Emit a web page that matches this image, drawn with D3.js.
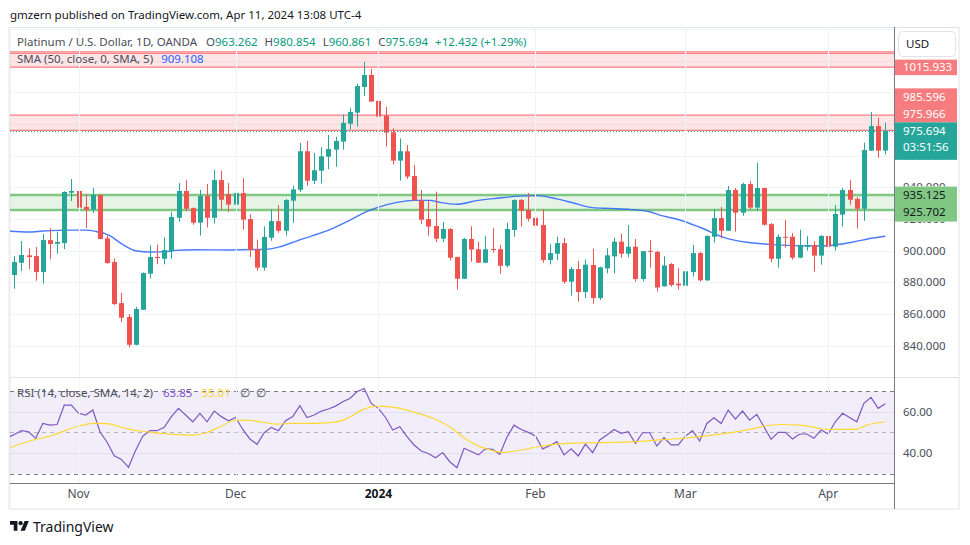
<!DOCTYPE html>
<html><head><meta charset="utf-8">
<script src="https://cdn.jsdelivr.net/npm/d3@7"></script>
<style>
html,body{margin:0;padding:0;background:#fff;}
svg{display:block;font-family:"Noto Sans","Open Sans",sans-serif;}
</style></head><body>
<svg id="c" width="970" height="545"></svg>
<script>
// ---------------- DATA ----------------
const opens = [884.6,892.4,897.1,896.6,886.5,906.7,904.4,904.8,936.6,937.7,927.6,925.9,935.2,907.8,892.8,866.9,858.1,840.6,862.7,885.5,
896.0,894.9,899.6,920.8,937.7,926.9,917.7,934.5,920.8,944.6,935.8,929.1,936.4,920.0,900.9,889.3,908.2,918.7,912.6,931.6,
938.5,962.8,944.2,950.5,959.4,963.8,968.9,980.2,987.2,1003.4,1011.0,994.6,985.3,974.8,956.9,962.8,947.2,931.8,920.0,915.6,
907.6,913.7,896.0,882.3,907.4,900.9,892.4,901.1,900.9,890.5,913.1,932.0,925.7,920.7,916.2,894.1,898.1,904.8,880.4,888.4,
873.9,891.0,870.1,888.8,896.4,905.7,898.1,902.5,882.1,899.9,899.3,877.5,891.6,879.2,877.9,886.5,898.5,881.3,908.8,920.6,
912.6,938.3,924.0,942.1,927.2,939.6,916.8,894.9,908.8,908.8,895.6,902.5,903.6,896.9,909.3,902.5,922.8,938.3,932.7,926.5,
963.2,978.7,963.262];
const highs = [896.6,906.1,901.5,902.3,910.5,914.3,912.0,937.5,945.3,937.9,935.8,939.6,935.6,909.7,895.2,873.3,860.0,864.6,886.3,903.4,
903.8,908.6,924.4,942.7,944.6,927.4,938.3,942.1,951.0,950.5,942.7,938.5,945.7,922.9,907.0,915.4,926.1,928.9,932.7,941.1,
968.1,969.3,961.7,965.3,973.1,972.0,986.1,990.3,1005.5,1019.2,1014.8,1004.0,990.8,977.3,970.9,966.7,954.1,938.3,931.6,937.3,
918.1,914.3,896.2,908.0,915.4,905.5,909.3,914.3,903.6,917.7,932.4,932.7,936.4,925.1,926.1,904.2,908.8,908.0,889.7,893.5,
894.5,901.1,889.9,901.5,908.2,910.7,916.2,907.4,899.9,906.8,899.9,896.5,892.2,889.1,887.4,903.6,899.3,909.7,926.3,927.6,
940.9,939.6,943.0,944.0,955.4,939.8,917.5,910.3,919.4,911.2,913.3,909.3,906.0,909.9,915.0,928.9,939.6,944.6,933.9,968.2,
987.6,984.0,980.854];
const lows = [876.0,887.2,888.4,881.1,879.2,894.7,898.1,901.0,931.4,919.4,914.3,923.8,907.2,891.8,865.7,854.9,838.9,840.2,862.5,882.5,
891.4,891.4,894.9,918.3,925.0,916.4,909.5,914.7,917.1,925.7,924.4,920.4,913.3,896.0,887.4,887.4,906.3,911.4,909.5,917.7,
937.1,941.1,942.1,942.5,951.4,953.0,963.8,976.6,978.3,997.7,994.0,979.0,965.7,954.4,944.2,945.3,931.6,916.9,909.5,905.5,
905.5,893.9,875.4,882.1,893.1,892.2,892.2,898.8,885.5,889.3,908.8,915.2,918.5,903.6,892.4,891.4,894.1,879.1,871.6,867.8,
870.1,866.5,868.9,885.7,885.7,895.6,895.8,880.5,880.6,889.3,874.3,877.3,877.3,875.4,865.9,883.6,880.4,880.9,905.1,907.8,
912.4,912.0,922.1,926.3,925.3,915.8,892.8,889.3,901.9,894.3,895.4,900.0,886.8,891.2,892.2,900.0,915.2,929.1,913.9,918.9,
963.0,958.7,960.861];
const closes = [892.8,897.3,896.0,886.5,906.7,904.2,905.5,937.1,937.7,927.2,925.9,935.2,907.4,892.2,866.3,857.7,840.6,863.2,885.9,896.0,
895.4,900.4,921.3,937.7,926.5,917.7,934.5,920.8,944.6,932.2,929.1,936.4,919.6,900.4,889.3,908.7,918.7,912.6,932.0,938.7,
962.8,944.2,950.8,959.6,964.2,969.3,980.7,987.6,1004.0,1011.0,994.2,984.7,974.6,956.9,962.8,946.8,931.8,919.6,915.2,907.6,
913.7,895.6,882.3,907.4,900.7,892.4,900.9,900.4,890.5,913.7,932.0,925.3,920.2,915.8,894.1,898.5,904.8,880.4,888.4,873.9,
891.2,870.1,889.5,897.1,905.7,898.1,902.5,882.1,899.7,899.3,876.8,890.7,878.3,878.1,887.0,898.5,881.3,909.3,920.6,912.6,
938.3,924.0,942.1,927.2,939.6,916.4,894.9,908.8,908.2,895.6,903.6,903.6,896.9,909.3,902.5,923.2,938.3,932.2,926.5,963.6,
978.7,963.2,975.694];

// month ticks (bar index of first trading day)
const monthLabels = ["Nov","Dec","2024","Feb","Mar","Apr"];
const monthIndex = [9,31,51,73,94,114];
const priceTicks = [840,860,880,900,920,940,960,980,1000,1020,1040];
const priceTickLabels = [840,860,880,900,920,940,960];
const rsiTicks = [60,40];
const rsiTickLabels = ["60.00","40.00"];

// SMA(50) overlay
const smaIdx = [-1,2,4,8,10,11.4,13.3,15.1,17,19,21.2,22.6,25.4,30.2,31.5,35.3,37.2,39.5,41.8,44.2,46.6,48.9,50.8,53.6,55.9,58.2,59.6,62,64.8,67.6,70.8,73.2,76,78.2,81,83.4,86.2,89,90.4,93.2,96,99.8,102.6,105.8,109,112.4,115.2,117.5,120.3,122];
const smaVal = [912.4,911.8,912.4,913,913,912.2,909.7,904.2,900,899.2,899.4,900.2,900.6,900.4,900.6,900.9,902.5,906.1,909.5,913.3,918.3,923.8,927.2,930.5,931.8,931.8,930.5,929.3,931.6,933.1,934.5,934.8,932.7,930.3,927.2,926.7,926.1,924.6,922.5,919.4,914.8,907.8,905.3,904,903.2,903,903.8,905.5,908,909.108];

// RSI(14) per bar, starting one bar before the first visible candle
const rsiFirstIndex = -1;
const rsiValues = [47.3,49.0,50.8,50.3,47.1,54.3,53.5,53.8,63.2,63.2,59.2,58.4,60.8,50.3,45.2,38.7,36.9,33.1,41.4,48.2,
50.8,50.8,52.4,57.6,61.6,58.4,55.1,59.2,55.1,60.3,57.6,55.6,57.2,51.4,46.8,44.2,49.8,52.4,50.8,55.6,
57.6,62.9,57.2,58.4,60.3,61.3,62.7,64.8,66.4,69.6,71.2,64.0,61.6,57.2,51.1,52.7,47.9,43.9,41.0,39.8,
37.7,40.2,35.8,32.9,42.3,40.7,39.1,42.0,41.8,39.4,47.6,53.5,51.4,50.0,48.2,42.0,43.5,45.5,39.1,42.0,
38.6,44.3,40.2,46.3,48.7,51.4,49.5,50.3,44.7,49.8,49.8,43.4,47.4,43.9,43.9,48.2,50.8,45.8,54.3,57.1,
54.3,60.8,56.4,60.3,55.9,58.7,52.7,46.6,50.0,50.0,46.8,49.2,49.2,47.1,51.1,49.2,55.1,59.2,57.2,55.1,
64.0,66.9,61.6,63.85];
// RSI-based SMA(14)
const rsiSmaIdx = [-1,2.7,5.5,7.3,9.2,11.1,12.9,14.8,16.7,18.5,20.4,22.3,25.1,26.9,28.8,30.7,32.5,34.4,36.7,39.1,41.9,44.2,46.1,47.5,48.9,50.8,52.2,54,56.3,58.7,61,62.9,65.2,67.1,68.5,70.4,72.7,75,77.4,82,86.7,91.4,93.7,96.1,98.4,100.7,103,105.4,107.7,110,112.4,113.8,116.1,118,119.4,122];
const rsiSmaVal = [42.2,46.3,48.7,51.1,53.2,54.3,54.2,52.7,51.1,50.3,49.5,49.0,48.7,49.8,52.7,55.6,55.9,55.1,54.0,54.3,54.3,54.7,55.9,58.4,61.1,62.7,62.4,61.6,59.5,56.7,52.7,47.6,43.1,41.1,40.3,41.1,42.6,43.9,44.7,45.0,45.5,46.6,47.1,47.9,49.0,50.0,51.4,53.2,53.8,53.5,52.2,51.4,51.4,51.4,53.5,55.01];

// horizontal zones
const redZoneTop = [1025.6,1015.933];
const redZoneTopInner = 1024.6;
const redZoneMid = [985.596,975.966];
const greenZone = [935.125,925.702];
const lastPrice = 975.694;
const countdown = "03:51:56";

// legend texts
const publishedText = "gmzern published on TradingView.com, Apr 11, 2024 13:08 UTC-4";
const symbolText = "Platinum / U.S. Dollar, 1D, OANDA";
const ohlcKeys = ["O","H","L","C"];
const ohlcVals = ["963.262","980.854","960.861","975.694"];
const changeText = "+12.432 (+1.29%)";
const smaLegend = "SMA (50, close, 0, SMA, 5)";
const smaLegendVal = "909.108";
const rsiLegend = "RSI (14, close, SMA, 14, 2)";
const rsiLegendVals = ["63.85","55.01","∅","∅"];

// ---------------- LAYOUT ----------------
const svg = d3.select("#c");
const L = 10, R = 894, PT = 27, PB = 377, RT = 377, RB = 483, AB = 509, FR = 959;
const teal = "#26a69a", red = "#ef5350";
const FS = 11.5;

const x = d3.scaleLinear().domain([0,122]).range([14.3,885.3]);
const y = d3.scaleLinear().domain([840,960]).range([345.7,155.7]);
const yr = d3.scaleLinear().domain([30,70]).range([473.7,391]);

const defs = svg.append("defs");
defs.append("clipPath").attr("id","cp").append("rect").attr("x",L).attr("y",PT).attr("width",R-L).attr("height",PB-PT);
defs.append("clipPath").attr("id","cr").append("rect").attr("x",L).attr("y",RT).attr("width",R-L).attr("height",RB-RT);

// outer frame
svg.append("rect").attr("x",9.5).attr("y",27.5).attr("width",FR-9.5).attr("height",AB-27.5)
  .attr("fill","#fff").attr("stroke","#e0e3eb").attr("stroke-width",1);
svg.append("line").attr("x1",9.5).attr("x2",9.5).attr("y1",27).attr("y2",AB).attr("stroke","#e9ebf0").attr("stroke-width",2);

// grid
const gP = svg.append("g").attr("clip-path","url(#cp)");
priceTicks.forEach(v=>{
  gP.append("line").attr("x1",L).attr("x2",R).attr("y1",Math.round(y(v))+0.5).attr("y2",Math.round(y(v))+0.5)
    .attr("stroke","#f0f3fa");
});
const gR = svg.append("g").attr("clip-path","url(#cr)");
gR.append("rect").attr("x",L).attr("width",R-L).attr("y",yr(70)).attr("height",yr(30)-yr(70)).attr("fill","#7e57c2").attr("opacity",0.1);
rsiTicks.forEach(v=>{
  gR.append("line").attr("x1",L).attr("x2",R).attr("y1",Math.round(yr(v))+0.5).attr("y2",Math.round(yr(v))+0.5).attr("stroke","#e3ddf0");
});
monthIndex.forEach(i=>{
  const xx = Math.round(x(i))+0.5;
  svg.append("line").attr("x1",xx).attr("x2",xx).attr("y1",PT).attr("y2",RB).attr("stroke","#f0f3fa");
});
[[70,1],[50,0.5],[30,1]].forEach(([v,o])=>{
  gR.append("line").attr("x1",L).attr("x2",R).attr("y1",Math.round(yr(v))+0.5).attr("y2",Math.round(yr(v))+0.5)
    .attr("stroke","#787b86").attr("stroke-opacity",o).attr("stroke-dasharray","4,4");
});

// zones
function zone(a,b,fill,stroke,sw){
  gP.append("rect").attr("x",L).attr("width",R-L).attr("y",y(a)).attr("height",y(b)-y(a)).attr("fill",fill);
  [a,b].forEach(v=>gP.append("line").attr("x1",L).attr("x2",R).attr("y1",y(v)).attr("y2",y(v)).attr("stroke",stroke).attr("stroke-width",sw));
}
zone(redZoneTop[0],redZoneTop[1],"rgba(247,124,128,0.2)","#f77c80",1.2);
gP.append("line").attr("x1",L).attr("x2",R).attr("y1",y(redZoneTopInner)).attr("y2",y(redZoneTopInner)).attr("stroke","#f77c80").attr("stroke-width",1);
zone(redZoneMid[0],redZoneMid[1],"rgba(247,124,128,0.2)","#f77c80",1.2);
zone(greenZone[0],greenZone[1],"rgba(129,199,132,0.2)","#81c784",2.5);

// SMA line
gP.append("path").datum(smaIdx.map((d,i)=>[d,smaVal[i]]))
  .attr("d",d3.line().x(d=>x(d[0])).y(d=>y(d[1])).curve(d3.curveMonotoneX))
  .attr("fill","none").attr("stroke","#2962ff").attr("stroke-width",1.4).attr("stroke-opacity",0.85);

// candles
const gc = gP.append("g");
d3.range(closes.length).forEach(i=>{
  const up = closes[i] >= opens[i];
  const c = up ? teal : red;
  const cx = Math.round(x(i));
  gc.append("line").attr("x1",cx+0.5).attr("x2",cx+0.5).attr("y1",y(highs[i])).attr("y2",y(lows[i])).attr("stroke",c).attr("stroke-width",1);
  const top = y(Math.max(opens[i],closes[i])), bot = y(Math.min(opens[i],closes[i]));
  gc.append("rect").attr("x",cx-2).attr("width",5).attr("y",top).attr("height",Math.max(1,bot-top)).attr("fill",c);
});

// last price dotted line
gP.append("line").attr("x1",L).attr("x2",R).attr("y1",Math.round(y(lastPrice))+0.5).attr("y2",Math.round(y(lastPrice))+0.5)
  .attr("stroke",teal).attr("stroke-dasharray","1,2").attr("stroke-width",1);

// RSI lines
gR.append("path").datum(rsiValues.map((v,i)=>[i+rsiFirstIndex,v]))
  .attr("d",d3.line().x(d=>x(d[0])).y(d=>yr(d[1])))
  .attr("fill","none").attr("stroke","#7e57c2").attr("stroke-width",1.2);
gR.append("path").datum(rsiSmaIdx.map((d,i)=>[d,rsiSmaVal[i]]))
  .attr("d",d3.line().x(d=>x(d[0])).y(d=>yr(d[1])).curve(d3.curveMonotoneX))
  .attr("fill","none").attr("stroke","#fdd835").attr("stroke-width",1.2);

// separators and axes
svg.append("line").attr("x1",L).attr("x2",FR).attr("y1",PB+0.5).attr("y2",PB+0.5).attr("stroke","#e0e3eb");
svg.append("line").attr("x1",L).attr("x2",R).attr("y1",RB+0.5).attr("y2",RB+0.5).attr("stroke","#787b86");
svg.append("line").attr("x1",R+0.5).attr("x2",R+0.5).attr("y1",PT).attr("y2",AB).attr("stroke","#787b86");

// price labels boxes (computed first so tick labels can be clipped around them)
const fmt = d3.format(".3f");
const boxes = [];
const yTop = y(redZoneTop[1]);
boxes.push({y0:yTop-7.5,y1:yTop+8,fill:"#f77c80",tc:"#fff",lines:[[fmt(redZoneTop[1]),yTop]]});
const yLast = y(lastPrice);
const yA = yLast-17, yB = yA-17;
boxes.push({y0:yB-8.5,y1:yA+8.5,fill:"#f77c80",tc:"#fff",lines:[[fmt(redZoneMid[0]),yB],[fmt(redZoneMid[1]),yA]]});
boxes.push({y0:yA+8.5,y1:yLast+29,fill:teal,tc:"#fff",lines:[[fmt(lastPrice),yLast],[countdown,yLast+16.5]]});
const yG1 = y(greenZone[0]), yG2 = Math.max(y(greenZone[1]),yG1+17);
boxes.push({y0:yG1-8.5,y1:yG2+9.5,fill:"#81c784",tc:"#131722",lines:[[fmt(greenZone[0]),yG1],[fmt(greenZone[1]),yG2]]});

// clip for axis tick labels: free space between boxes
const freeClip = defs.append("clipPath").attr("id","axfree");
let cursor = PT;
boxes.slice().sort((a,b)=>a.y0-b.y0).forEach(b=>{
  if (b.y0>cursor) freeClip.append("rect").attr("x",R+1).attr("width",FR-R).attr("y",cursor).attr("height",b.y0-cursor);
  cursor = Math.max(cursor,b.y1);
});
freeClip.append("rect").attr("x",R+1).attr("width",FR-R).attr("y",cursor).attr("height",PB-cursor);

const gAx = svg.append("g").attr("clip-path","url(#axfree)");
priceTickLabels.forEach(v=>{
  gAx.append("text").attr("x",903).attr("y",y(v)+4).attr("font-size",FS).attr("fill","#4a4e5a").text(d3.format(".3f")(v));
});
rsiTicks.forEach((v,i)=>{
  svg.append("text").attr("x",903).attr("y",yr(v)+4).attr("font-size",FS).attr("fill","#4a4e5a").text(rsiTickLabels[i]);
});
boxes.forEach(b=>{
  svg.append("rect").attr("x",R+1).attr("y",b.y0).attr("width",62).attr("height",b.y1-b.y0).attr("fill",b.fill);
  b.lines.forEach(([t,cy])=>svg.append("text").attr("x",903).attr("y",cy+4).attr("font-size",FS).attr("fill",b.tc).text(t));
});

// time axis
monthLabels.forEach((m,i)=>{
  svg.append("text").attr("x",x(monthIndex[i])).attr("y",498).attr("text-anchor","middle")
    .attr("font-size",12).attr("fill", m==="2024" ? "#131722":"#4a4e5a").attr("font-weight", m==="2024"?700:400).text(m);
});

// USD box
svg.append("rect").attr("x",898.5).attr("y",31.5).attr("width",57).attr("height",25).attr("rx",4)
  .attr("fill","#fff").attr("stroke","#e0e3eb");
svg.append("text").attr("x",906).attr("y",48).attr("font-size",FS).attr("fill","#131722").text("USD");

// legend texts placed one after another
function txt(xp,yp,t,c,fs,fw){ return svg.append("text").attr("x",xp).attr("y",yp).attr("font-size",fs||FS).attr("fill",c).attr("font-weight",fw||400).text(t); }
function after(node,gap){ return node.attr("x")*1 + node.node().getComputedTextLength() + gap; }

txt(10,19,publishedText,"#131722",FS);
let t = txt(17,46,symbolText,"#4a4e5a");
let nx = after(t,9);
ohlcKeys.forEach((k,i)=>{
  const tt = svg.append("text").attr("x",nx).attr("y",46).attr("font-size",FS);
  tt.append("tspan").attr("fill","#4a4e5a").text(k);
  tt.append("tspan").attr("fill","#089981").text(ohlcVals[i]);
  nx = after(tt,7);
});
txt(nx,46,changeText,"#089981");
t = txt(17,63,smaLegend,"#4a4e5a");
txt(after(t,8),63,smaLegendVal,"#2962ff");
t = txt(17,397,rsiLegend,"#4a4e5a");
const rsiCols = ["#7e57c2","#f7d535","#4a4e5a","#4a4e5a"];
nx = after(t,10);
rsiLegendVals.forEach((v,i)=>{ const tt = txt(nx,397,v,rsiCols[i]); nx = after(tt,i>=2?6:9); });

// footer logo
const lg = svg.append("g").attr("transform","translate(10,519) scale(0.53)").attr("fill","#131722");
lg.append("path").attr("d","M14 22H7V11H0V4h14v18zM28 22h-8l7.5-18h8L28 22z");
lg.append("circle").attr("cx",20).attr("cy",8).attr("r",4);
txt(33,532,"TradingView","#131722",14);
</script>
</body></html>
